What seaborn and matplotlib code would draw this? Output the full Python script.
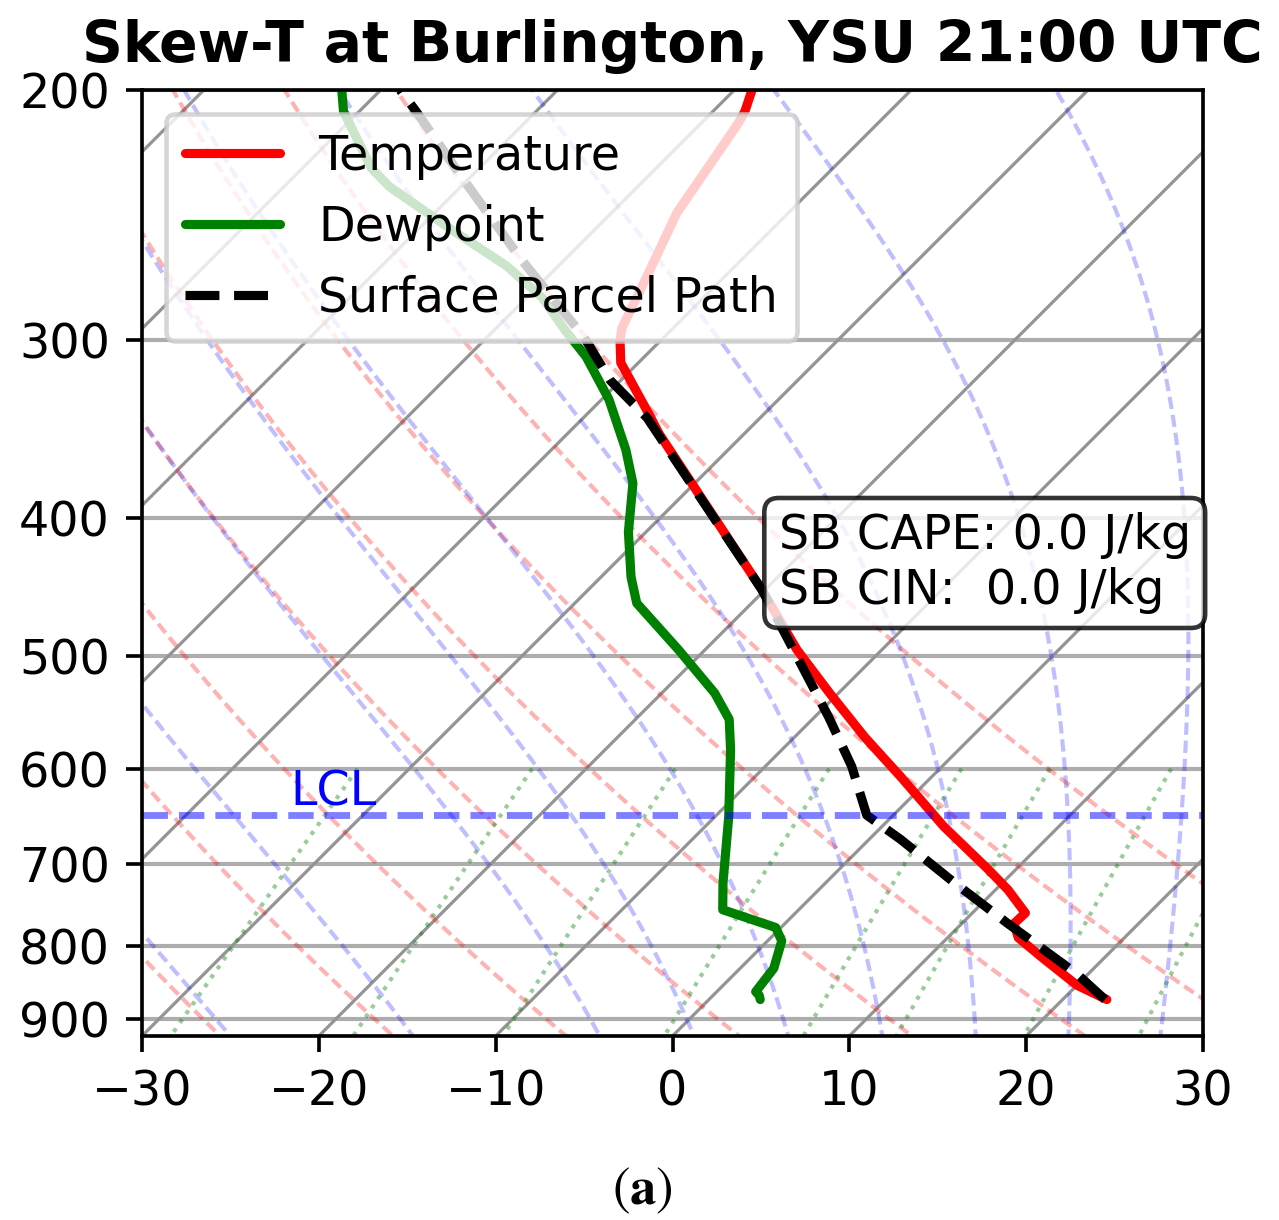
import numpy as np
import pandas as pd
import seaborn as sns
import matplotlib
matplotlib.use('Agg')
import matplotlib.pyplot as plt
from matplotlib.ticker import FixedLocator, NullLocator, FuncFormatter

# sondeo (hPa, degC)
temp_p = [872, 852, 815, 789, 771, 758, 730, 707, 659, 608, 570, 531, 495, 449,
          349, 338, 311, 300, 294, 272, 244, 211, 207, 200]
temp_c = [22.5, 20.0, 16.5, 14.0, 12.95, 13.0, 10.7, 8.5, 3.5, -1.75, -6.05, -10.5,
          -14.8, -20.2, -34.8, -36.5, -41.0, -42.3, -42.9, -44.3, -46.3, -47.9, -48.2, -49.0]

dew_p = [872, 866, 861, 829, 793, 776, 754, 722, 649, 582, 554, 531, 495, 459, 440, 409,
         378, 358, 330, 308, 295, 280, 266, 251, 234, 227, 207, 200]
dew_c = [2.9, 2.6, 2.2, 1.9, 0.8, -0.3, -4.3, -5.8, -9.2, -12.9, -14.7, -17.0, -21.5, -26.5,
         -28.3, -31.0, -33.5, -35.8, -39.6, -43.3, -46.0, -49.1, -52.9, -58.0, -64.0,
         -66.1, -70.9, -72.2]

parcel_p = [872, 837, 771, 722, 673, 647, 598, 552, 495, 449, 340, 320, 298, 263,
            231, 207, 200]
parcel_c = [22.4, 19.4, 12.6, 7.3, 1.8, -1.5, -5.1, -9.2, -15.0, -20.2, -36.4, -40.6,
            -44.6, -52.5, -60.3, -66.8, -68.9]

lcl_p = 647
sb_cape = 0.0
sb_cin = 0.0

title = 'Skew-T at Burlington, YSU 21:00 UTC'
x_ticks = [-30, -20, -10, 0, 10, 20, 30]
p_ticks = [200, 300, 400, 500, 600, 700, 800, 900]

# fondo: adiabaticas y lineas de razon de mezcla (como los defaults de MetPy)
dry_t0 = np.arange(-40, 51, 10)
moist_t0 = np.concatenate((np.arange(-40, 0, 10), np.arange(0, 51, 5)))
mixing_w = [0.0004, 0.001, 0.002, 0.004, 0.007, 0.01, 0.016, 0.024, 0.032]

P_BOT, P_TOP = 925, 200
T_MIN, T_MAX = -30, 30
W_PX, H_PX, DPI = 1279, 1220, 330
AX_LEFT, AX_RIGHT, AX_BOT, AX_TOP = 142, 1203, 1036, 90
FS = 10.4

RD, CP, LV, EPS = 287.04, 1004.6, 2.501e6, 0.622


def skew_x(t, p):
    '''Corre la temperatura con la altura para que las isotermas queden a 45 grados'''
    k = (T_MAX - T_MIN) * (AX_BOT - AX_TOP) / (AX_RIGHT - AX_LEFT)
    frac = np.log(P_BOT / np.asarray(p, float)) / np.log(P_BOT / P_TOP)
    return np.asarray(t, float) + k * frac


def sat_vap(tk):
    return 6.112 * np.exp(17.67 * (tk - 273.15) / (tk - 29.65))


def dtdp(tk, p):
    es = sat_vap(tk)
    rs = EPS * es / (p - es)
    return (RD * tk + LV * rs) / (CP + LV**2 * rs * EPS / (RD * tk**2)) / p


def integra(tk, p0, p1, n=600):
    '''RK4 de la pseudoadiabatica entre p0 y p1'''
    ps = np.linspace(p0, p1, n + 1)
    h = ps[1] - ps[0]
    out = [tk]
    for p in ps[:-1]:
        k1 = dtdp(tk, p)
        k2 = dtdp(tk + h * k1 / 2, p + h / 2)
        k3 = dtdp(tk + h * k2 / 2, p + h / 2)
        k4 = dtdp(tk + h * k3, p + h)
        tk = tk + h * (k1 + 2 * k2 + 2 * k3 + k4) / 6
        out.append(tk)
    return ps, np.array(out)


def moist_adiabat(t0, p):
    pu, tu = integra(t0 + 273.15, 1000., 100.)
    pd_, td = integra(t0 + 273.15, 1000., 1050., n=100)
    pp = np.concatenate((pd_[::-1], pu[1:]))
    tt = np.concatenate((td[::-1], tu[1:]))
    order = np.argsort(pp)
    return np.interp(p, pp[order], tt[order]) - 273.15


def dewpoint_from_w(w, p):
    e = p * w / (EPS + w)
    a = np.log(e / 6.112)
    return 243.5 * a / (17.67 - a)


sns.set_style('ticks', rc={'axes.edgecolor': 'black', 'xtick.color': 'black',
                           'ytick.color': 'black', 'text.color': 'black',
                           'patch.edgecolor': 'black'})
plt.rcParams['font.family'] = ['DejaVu Sans']
plt.rcParams['mathtext.fontset'] = 'stix'

fig = plt.figure(figsize=(W_PX / DPI, H_PX / DPI), dpi=DPI)
ax = fig.add_axes([AX_LEFT / W_PX, (H_PX - AX_BOT) / H_PX,
                   (AX_RIGHT - AX_LEFT) / W_PX, (AX_BOT - AX_TOP) / H_PX])
ax.set_yscale('log')

# isotermas (grilla inclinada) y grilla horizontal
for t in range(-130, 40, 10):
    ax.plot(skew_x([t, t], [1050, 100]), [1050, 100], color='0.58', lw=0.7, zorder=1.5)
ax.grid(axis='y', color='0.68', lw=0.9)
ax.set_axisbelow(True)

p_bg = np.linspace(1050, 100, 200)
for t0 in dry_t0:
    t = (t0 + 273.15) * (p_bg / 1000.) ** (RD / CP) - 273.15
    ax.plot(skew_x(t, p_bg), p_bg, color='red', alpha=0.3, lw=0.9,
            dashes=(2.8, 1.4), zorder=1.6)
for t0 in moist_t0:
    t = moist_adiabat(t0, p_bg)
    ax.plot(skew_x(t, p_bg), p_bg, color='blue', alpha=0.25, lw=0.9,
            dashes=(3.0, 1.4), zorder=1.6)
p_mix = np.linspace(600, 1050, 60)
for w in mixing_w:
    t = dewpoint_from_w(w, p_mix)
    ax.plot(skew_x(t, p_mix), p_mix, color='green', alpha=0.4, lw=0.9,
            linestyle=':', zorder=1.6)

# trazas del sondeo
sns.lineplot(x=skew_x(temp_c, temp_p), y=temp_p, sort=False, estimator=None,
             color='red', lw=2, label='Temperature', ax=ax)
sns.lineplot(x=skew_x(dew_c, dew_p), y=dew_p, sort=False, estimator=None,
             color='green', lw=2, label='Dewpoint', ax=ax)
sns.lineplot(x=skew_x(parcel_c, parcel_p), y=parcel_p, sort=False, estimator=None,
             color='black', lw=2, linestyle='--', label='Surface Parcel Path', ax=ax)

ax.axhline(lcl_p, color='blue', lw=1.5, linestyle='--', alpha=0.5)
ax.text(0.14, lcl_p, 'LCL', transform=ax.get_yaxis_transform(), color='blue',
        fontsize=FS, ha='left', va='bottom')

ax.text(0.6, 0.5, f'SB CAPE: {sb_cape:.1f} J/kg\nSB CIN:  {sb_cin:.1f} J/kg',
        transform=ax.transAxes, fontsize=FS, va='center',
        bbox=dict(boxstyle='round', facecolor='white', edgecolor='black', alpha=0.8))

ax.set_xlim(T_MIN, T_MAX)
ax.set_ylim(P_BOT, P_TOP)
ax.set_xticks(x_ticks)
ax.yaxis.set_major_locator(FixedLocator(p_ticks))
ax.yaxis.set_major_formatter(FuncFormatter(lambda v, pos: f'{v:.0f}'))
ax.yaxis.set_minor_locator(NullLocator())
ax.tick_params(labelsize=FS, length=3.5, width=0.8)
for s in ax.spines.values():
    s.set_visible(True)
    s.set_linewidth(0.8)
ax.set_xlabel('')
ax.set_ylabel('')

ax.legend(loc='upper left', frameon=True, fontsize=FS, edgecolor='0.8')
ax.set_title(title, fontsize=12.4, fontweight='bold')

fig.text(0.502, 0.025, r'$(\mathbf{a})$', ha='center', va='center', fontsize=11.5)

fig.savefig('out.png', dpi=DPI)
